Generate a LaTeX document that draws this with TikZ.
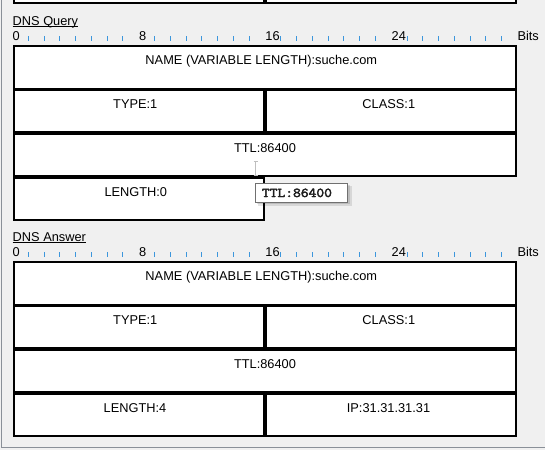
\documentclass[tikz,border=0pt]{standalone}
\usepackage{fontspec}
\setmainfont{Liberation Sans}
\newfontfamily\tipfont[FakeBold=3.2,FakeStretch=1.12]{Latin Modern Mono}
\usetikzlibrary{calc}
\definecolor{winbg}{HTML}{F0F0F0}
\definecolor{framegray}{HTML}{8A9098}
\definecolor{tickblue}{HTML}{3C96DC}
\definecolor{tipborder}{HTML}{707070}
\definecolor{tiptext}{HTML}{1E1E1E}
\begin{document}
\begin{tikzpicture}[x=1pt,y=-1pt,
  cell/.style={draw=black, line width=2pt, fill=white},
  lbl/.style={inner sep=0pt, anchor=base, font=\fontsize{12.8}{14}\selectfont, text=black},
  rlbl/.style={lbl, anchor=base west},
  tickmark/.style={draw=tickblue, line width=1pt},
  uline/.style={draw=black, line width=0.9pt},
  tipbox/.style={draw=tipborder, line width=1pt, fill=white},
  tiplbl/.style={inner sep=0pt, anchor=base west, font=\tipfont\fontsize{13.5}{15}\selectfont, text=tiptext},
  ibeam/.style={draw=black!25, line width=1pt}]
\useasboundingbox (0,0) rectangle (545,450);
\fill[winbg] (0,0) rectangle (545,450);
\begin{scope}
\clip (0,0) rectangle (545,450);
% remnant of the previous section
\draw[cell] (13.5,-20) rectangle (264.05,3);
\draw[cell] (265.55,-20) rectangle (515.7,3);
\end{scope}

% ---------------- DNS Query ----------------
\node[rlbl] (qhead) at (12.5,25) {DNS Query};
\draw[uline] ($(qhead.base west)+(0,1.8)$) -- ($(qhead.base east)+(0,1.8)$);
\foreach \i in {1,...,7,9,10,...,15,17,18,...,23,25,26,...,31}
  \draw[tickmark] ({12.5+15.78*\i},36) -- ({12.5+15.78*\i},41);
\node[rlbl] (q0) at (12.5,40.7) {0};
\node[rlbl] (q8) at ({12.8+15.78*8},40.7) {8};
\node[rlbl] (q16) at ({12.8+15.78*16},40.7) {16};
\node[rlbl] (q24) at ({12.8+15.78*24},40.7) {24};
\node[rlbl] (qbits) at (517.3,40.7) {Bits};

\draw[cell] (13.5,46) rectangle (515.7,88.5);
\draw[cell] (13.5,90) rectangle (264.05,132);
\draw[cell] (265.55,90) rectangle (515.7,132);
\draw[cell] (13.5,133.5) rectangle (515.7,176);
\draw[cell] (13.5,177.5) rectangle (264.05,220);

\node[lbl] (qname) at (261.3,64.5) {NAME (VARIABLE LENGTH):suche.com};
\node[lbl] (qtype) at (135.3,108.5) {TYPE:1};
\node[lbl] (qclass) at (388.8,108.5) {CLASS:1};
\node[lbl] (qttl) at (265,152) {TTL:86400};
\node[lbl] (qlen) at (135.8,196) {LENGTH:0};

% mouse I-beam
\draw[ibeam] (253.5,161) -- (257.5,161) (255.5,161) -- (255.5,175) (253.5,175) -- (257.5,175);

% tooltip
\fill[black, opacity=0.10] (258,186) rectangle (351.5,205.5);
\fill[black, opacity=0.12] (257,185) rectangle (350,204);
\draw[tipbox] (255.5,183.5) rectangle (347.5,202.5);
\node[tiplbl] (tip) at (261.7,197) {TTL:86400};

% ---------------- DNS Answer ----------------
\node[rlbl] (ahead) at (12.5,241) {DNS Answer};
\draw[uline] ($(ahead.base west)+(0,1.8)$) -- ($(ahead.base east)+(0,1.8)$);
\foreach \i in {1,...,7,9,10,...,15,17,18,...,23,25,26,...,31}
  \draw[tickmark] ({12.5+15.78*\i},252) -- ({12.5+15.78*\i},257);
\node[rlbl] (a0) at (12.5,256.7) {0};
\node[rlbl] (a8) at ({12.8+15.78*8},256.7) {8};
\node[rlbl] (a16) at ({12.8+15.78*16},256.7) {16};
\node[rlbl] (a24) at ({12.8+15.78*24},256.7) {24};
\node[rlbl] (abits) at (517.3,256.7) {Bits};

\draw[cell] (13.5,262) rectangle (515.7,304.5);
\draw[cell] (13.5,306) rectangle (264.05,348);
\draw[cell] (265.55,306) rectangle (515.7,348);
\draw[cell] (13.5,349.5) rectangle (515.7,392);
\draw[cell] (13.5,393.5) rectangle (264.05,436);
\draw[cell] (265.55,393.5) rectangle (515.7,436);

\node[lbl] (aname) at (261.3,280.5) {NAME (VARIABLE LENGTH):suche.com};
\node[lbl] (atype) at (135.3,324.5) {TYPE:1};
\node[lbl] (aclass) at (388.8,324.5) {CLASS:1};
\node[lbl] (attl) at (265,368) {TTL:86400};
\node[lbl] (alen) at (135,412) {LENGTH:4};
\node[lbl] (aip) at (388.5,412) {IP:31.31.31.31};

% window frame
\draw[framegray, line width=1.3pt] (1.2,0) -- (1.2,447.6) -- (545,447.6);
\end{tikzpicture}
\end{document}
